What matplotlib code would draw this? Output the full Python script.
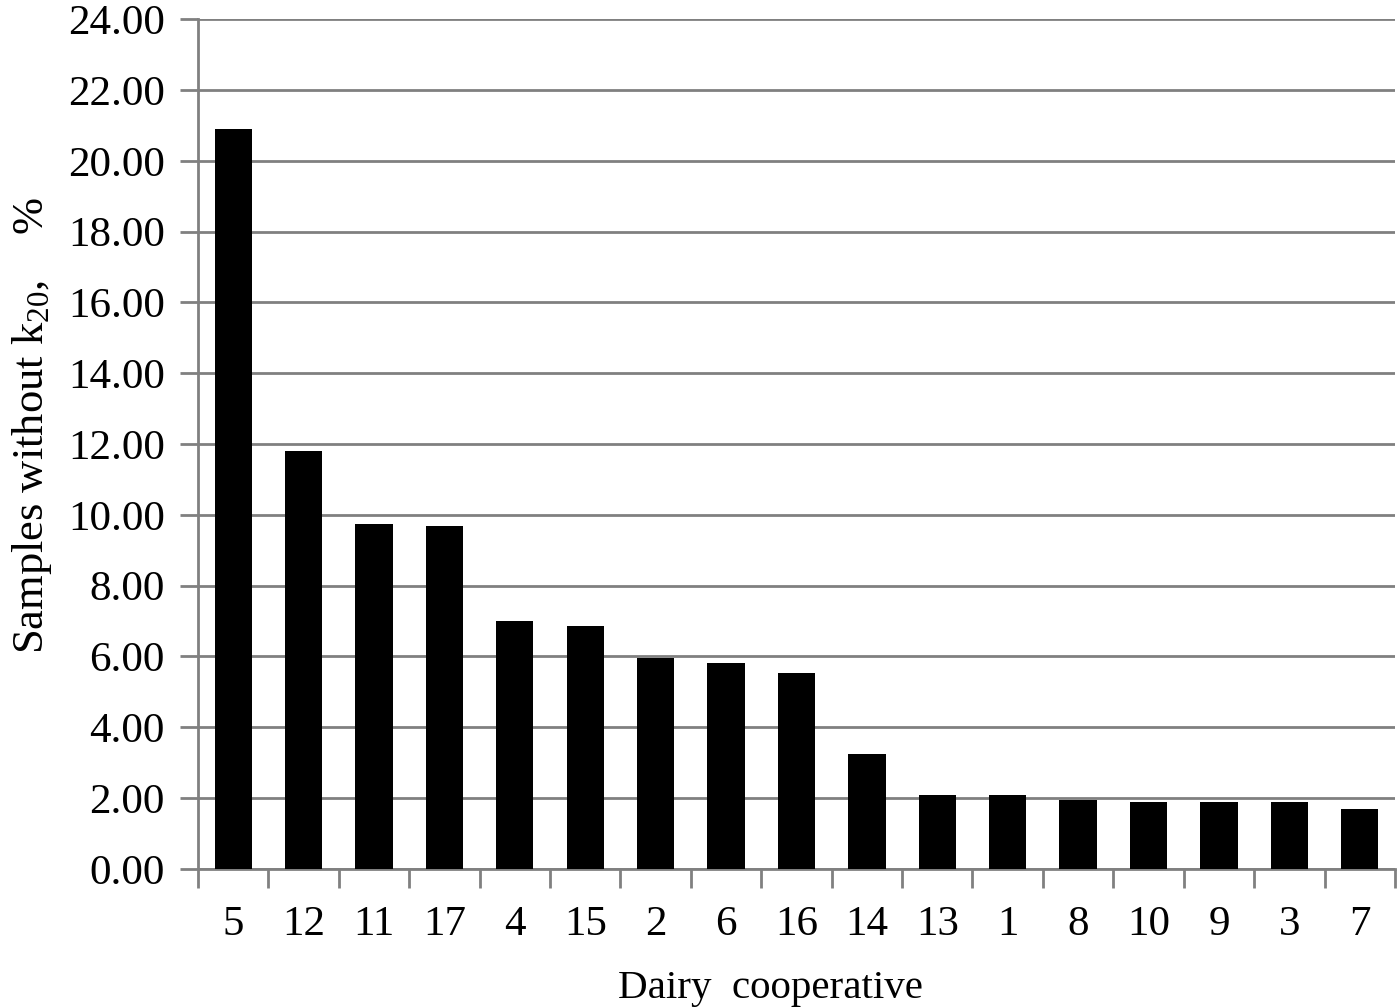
import matplotlib as mpl
import numpy as np

mpl.use("Agg")
from matplotlib import pyplot as plt

cooperatives = ["5", "12", "11", "17", "4", "15", "2", "6", "16", "14",
                "13", "1", "8", "10", "9", "3", "7"]
share = [20.90, 11.81, 9.74, 9.68, 7.00, 6.86, 5.97, 5.81, 5.52, 3.24,
         2.10, 2.10, 1.96, 1.88, 1.88, 1.88, 1.68]
yticks = np.arange(0, 24.01, 2)

plt.rcParams['font.family'] = ['Liberation Serif', 'DejaVu Serif']
plt.rcParams['mathtext.fontset'] = 'custom'
plt.rcParams['mathtext.rm'] = 'Liberation Serif'
plt.rcParams['mathtext.it'] = 'Liberation Serif:italic'
plt.rcParams['mathtext.default'] = 'regular'

grey = '#808080'

fig = plt.figure(figsize=(14, 10.08), dpi=100)
ax = fig.add_axes([0.1414, 0.138, 0.855, 0.843])

x = np.arange(len(cooperatives))
ax.bar(x, share, width=0.53, color='black', zorder=3)

ax.set_xlim(-0.5, len(cooperatives) - 0.5)
ax.set_ylim(0, 24)
ax.set_yticks(yticks)
ax.set_yticklabels(["{:.2f}".format(v) for v in yticks])
ax.yaxis.grid(True, color=grey, linewidth=2, zorder=0)
ax.set_axisbelow(True)

ax.set_xticks(x)
ax.set_xticklabels(cooperatives)
ax.set_xticks(np.arange(-0.5, len(cooperatives)), minor=True)
ax.tick_params(axis='x', which='major', length=0, pad=26, labelsize=31)
ax.tick_params(axis='x', which='minor', length=14, width=2, color=grey)
ax.tick_params(axis='y', length=13, width=2, color=grey, pad=11, labelsize=31)

for side in ['top', 'right']:
    ax.spines[side].set_visible(False)
for side in ['left', 'bottom']:
    ax.spines[side].set_color(grey)
    ax.spines[side].set_linewidth(2)

ax.set_xlabel("Dairy  cooperative", fontsize=29.5)
ax.xaxis.set_label_coords(0.478, -0.119)
ax.set_ylabel("Samples without k$_{20}$,    %", fontsize=32)
ax.yaxis.set_label_coords(-0.120, 0.522)

plt.savefig("out.png", dpi=100)
